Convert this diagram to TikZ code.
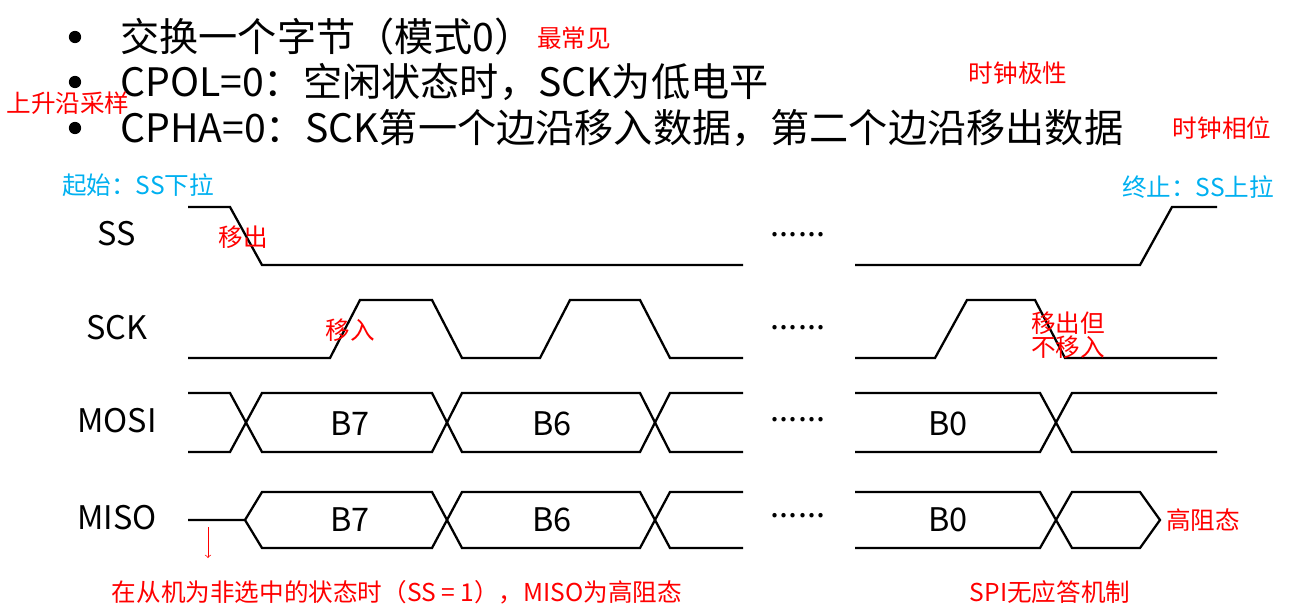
\documentclass[tikz,border=0pt]{standalone}
\usepackage{fontspec}
\setmainfont{Noto Sans CJK SC}
\usepackage{tikz}

\definecolor{noteRed}{RGB}{255,0,0}
\definecolor{noteBlue}{RGB}{0,176,240}

\begin{document}
\begin{tikzpicture}[x=0.02cm,y=-0.02cm,
    wave/.style={line width=1.3pt,black},
    big/.style={font=\fontsize{22.3}{22.3}\selectfont,anchor=west,inner sep=0pt},
    sig/.style={font=\fontsize{18.5}{18.5}\selectfont,inner sep=0pt},
    redtxt/.style={text=noteRed,font=\fontsize{14}{14}\selectfont,inner sep=0pt},
    bluetxt/.style={text=noteBlue,font=\fontsize{14}{14}\selectfont,inner sep=0pt}]
	\useasboundingbox (0,0) rectangle (1294,615);
	
	% Title lines
	\foreach \yy in {37,82,128} \fill (75,\yy) circle (3.5pt);
	\node[big] (line1) at (120,37) {交换一个字节（模式0）};
	\node[big] (line2) at (120,82) {CPOL=0：空闲状态时，SCK为低电平};
	\node[big] (line3) at (120,128) {CPHA=0：SCK第一个边沿移入数据，第二个边沿移出数据};
	\node[redtxt] (common) at (574,38) {最常见};
	\node[redtxt] (polarity) at (1018,73) {时钟极性};
	\node[redtxt] (phase) at (1222,128) {时钟相位};
	\node[redtxt] (rising) at (68,103) {上升沿采样};
	\node[bluetxt] (start) at (138,185) {起始：SS下拉};
	\node[bluetxt] (stop) at (1198,187) {终止：SS上拉};
	
	% Signal names
	\node[sig] (ss) at (117,234) {SS};
	\node[sig] (sck) at (117,328) {SCK};
	\node[sig] (mosi) at (117,421) {MOSI};
	\node[sig] (miso) at (117,518) {MISO};
	
	% SS
	\draw[wave] (188,207) -- (230,207) -- (262,265) -- (743,265);
	\draw[wave] (855,265) -- (1140,265) -- (1172,207) -- (1217,207);
	
	% SCK
	\draw[wave] (188,358) -- (330,358) -- (360,300) -- (432,300) -- (462,358) -- (540,358)
	  -- (570,300) -- (640,300) -- (670,358) -- (743,358);
	\draw[wave] (855,358) -- (935,358) -- (967,300) -- (1035,300) -- (1065,358) -- (1217,358);
	
	% MOSI
	\draw[wave] (188,393) -- (230,393) -- (262,452) -- (432,452) -- (462,393) -- (640,393)
	  -- (670,452) -- (743,452);
	\draw[wave] (188,452) -- (230,452) -- (262,393) -- (432,393) -- (462,452) -- (640,452)
	  -- (670,393) -- (743,393);
	\draw[wave] (855,393) -- (1040,393) -- (1072,452) -- (1217,452);
	\draw[wave] (855,452) -- (1040,452) -- (1072,393) -- (1217,393);
	
	% MISO
	\draw[wave] (188,520) -- (245,520) -- (262,492) -- (432,492) -- (462,548) -- (640,548)
	  -- (670,492) -- (743,492);
	\draw[wave] (245,520) -- (262,548) -- (432,548) -- (462,492) -- (640,492)
	  -- (670,548) -- (743,548);
	\draw[wave] (855,492) -- (1040,492) -- (1072,548) -- (1140,548) -- (1160,520)
	  -- (1140,492) -- (1072,492) -- (1040,548) -- (855,548);
	
	% Data labels
	\foreach \xx/\yy/\tt in {350/424/B7,552/424/B6,948/424/B0,350/520/B7,552/520/B6,948/520/B0}
	  \node[sig] at (\xx,\yy) {\tt};
	\foreach \yy in {235,328,420,516}
	  \node[sig] at (798,\yy) {......};
	
	% Notes
	\node[redtxt] (shiftout) at (243,237) {移出};
	\node[redtxt] (shiftin) at (350,330) {移入};
	\node[redtxt,align=left] (outnotin) at (1068,335) {移出但\\不移入};
	\node[redtxt] (hiz) at (1203,520) {高阻态};
	\node[redtxt] (hiznote) at (397,592) {在从机为非选中的状态时（SS = 1），MISO为高阻态};
	\node[redtxt] (noack) at (1050,592) {SPI无应答机制};
	\coordinate (arrtop) at (208,527);
	\coordinate (arrbot) at (208,558);
	\draw[noteRed,->] (arrtop) -- (arrbot);
\end{tikzpicture}
\end{document}
